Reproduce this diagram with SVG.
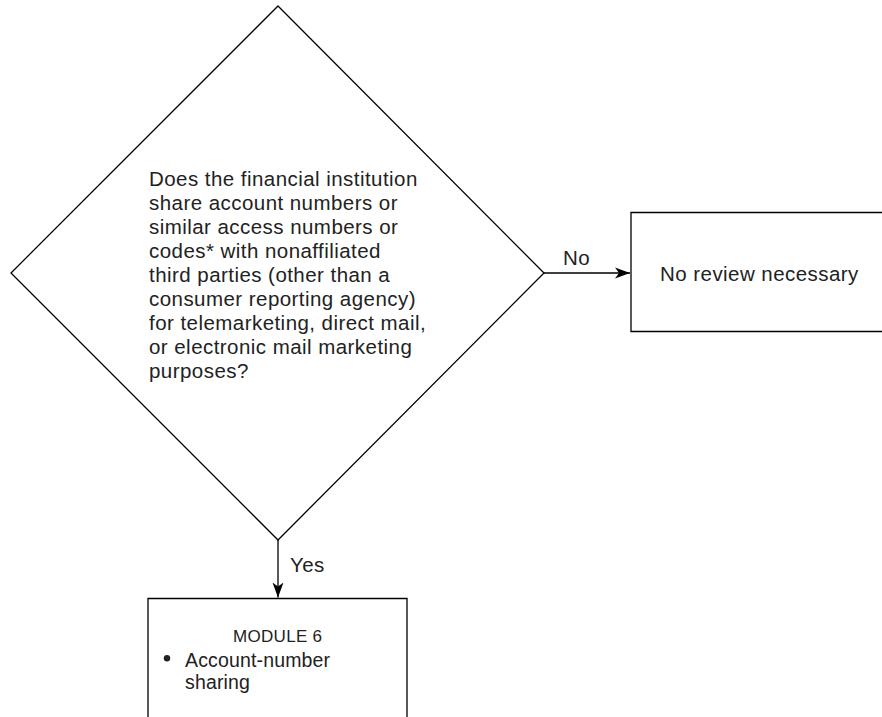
<svg xmlns="http://www.w3.org/2000/svg" width="882" height="717" viewBox="0 0 882 717">
<defs>
<style>
.t{font-family:"Liberation Sans",Arial,Helvetica,sans-serif;font-size:20.5px;fill:#222;letter-spacing:0.45px}
.s{font-size:17px;letter-spacing:0.3px}
.a{font-size:19.5px;letter-spacing:0.15px}
.shape{fill:#fff;stroke:#000;stroke-width:1.3}
.conn{fill:none;stroke:#000;stroke-width:1.3}
</style>
<marker id="ah" markerWidth="16" markerHeight="12" refX="15" refY="6" orient="auto" markerUnits="userSpaceOnUse">
<path d="M0,0.5 L15,6 L0,11.5 L4,6 Z" fill="#000"/>
</marker>
</defs>
<rect width="882" height="717" fill="#fff"/>
<g id="decision">
<polygon class="shape" points="278,6 544,273 278,540 11,273"/>
<text class="t" x="149" y="185.7">Does the financial institution</text>
<text class="t" x="149" y="209.7">share account numbers or</text>
<text class="t" x="149" y="233.7">similar access numbers or</text>
<text class="t" x="149" y="257.7">codes* with nonaffiliated</text>
<text class="t" x="149" y="281.7">third parties (other than a</text>
<text class="t" x="149" y="305.7">consumer reporting agency)</text>
<text class="t" x="149" y="329.7">for telemarketing, direct mail,</text>
<text class="t" x="149" y="353.7">or electronic mail marketing</text>
<text class="t" x="149" y="377.7">purposes?</text>
</g>
<g id="no-review">
<path class="shape" d="M890,212.5 H631 V331.5 H890"/>
<text class="t" x="660" y="281">No review necessary</text>
</g>
<g id="module6">
<path class="shape" d="M148,720 V598.5 H407 V720"/>
<text class="t s" x="233" y="641.7">MODULE 6</text>
<circle cx="167" cy="658.3" r="3.2" fill="#222"/>
<text class="t a" x="185" y="666.7">Account-number</text>
<text class="t a" x="185" y="689">sharing</text>
</g>
<g id="connectors">
<line class="conn" x1="544" y1="273" x2="630" y2="273" marker-end="url(#ah)"/>
<text class="t" x="563" y="265">No</text>
<line class="conn" x1="278" y1="540" x2="278" y2="597.5" marker-end="url(#ah)"/>
<text class="t" x="290" y="572">Yes</text>
</g>
</svg>
